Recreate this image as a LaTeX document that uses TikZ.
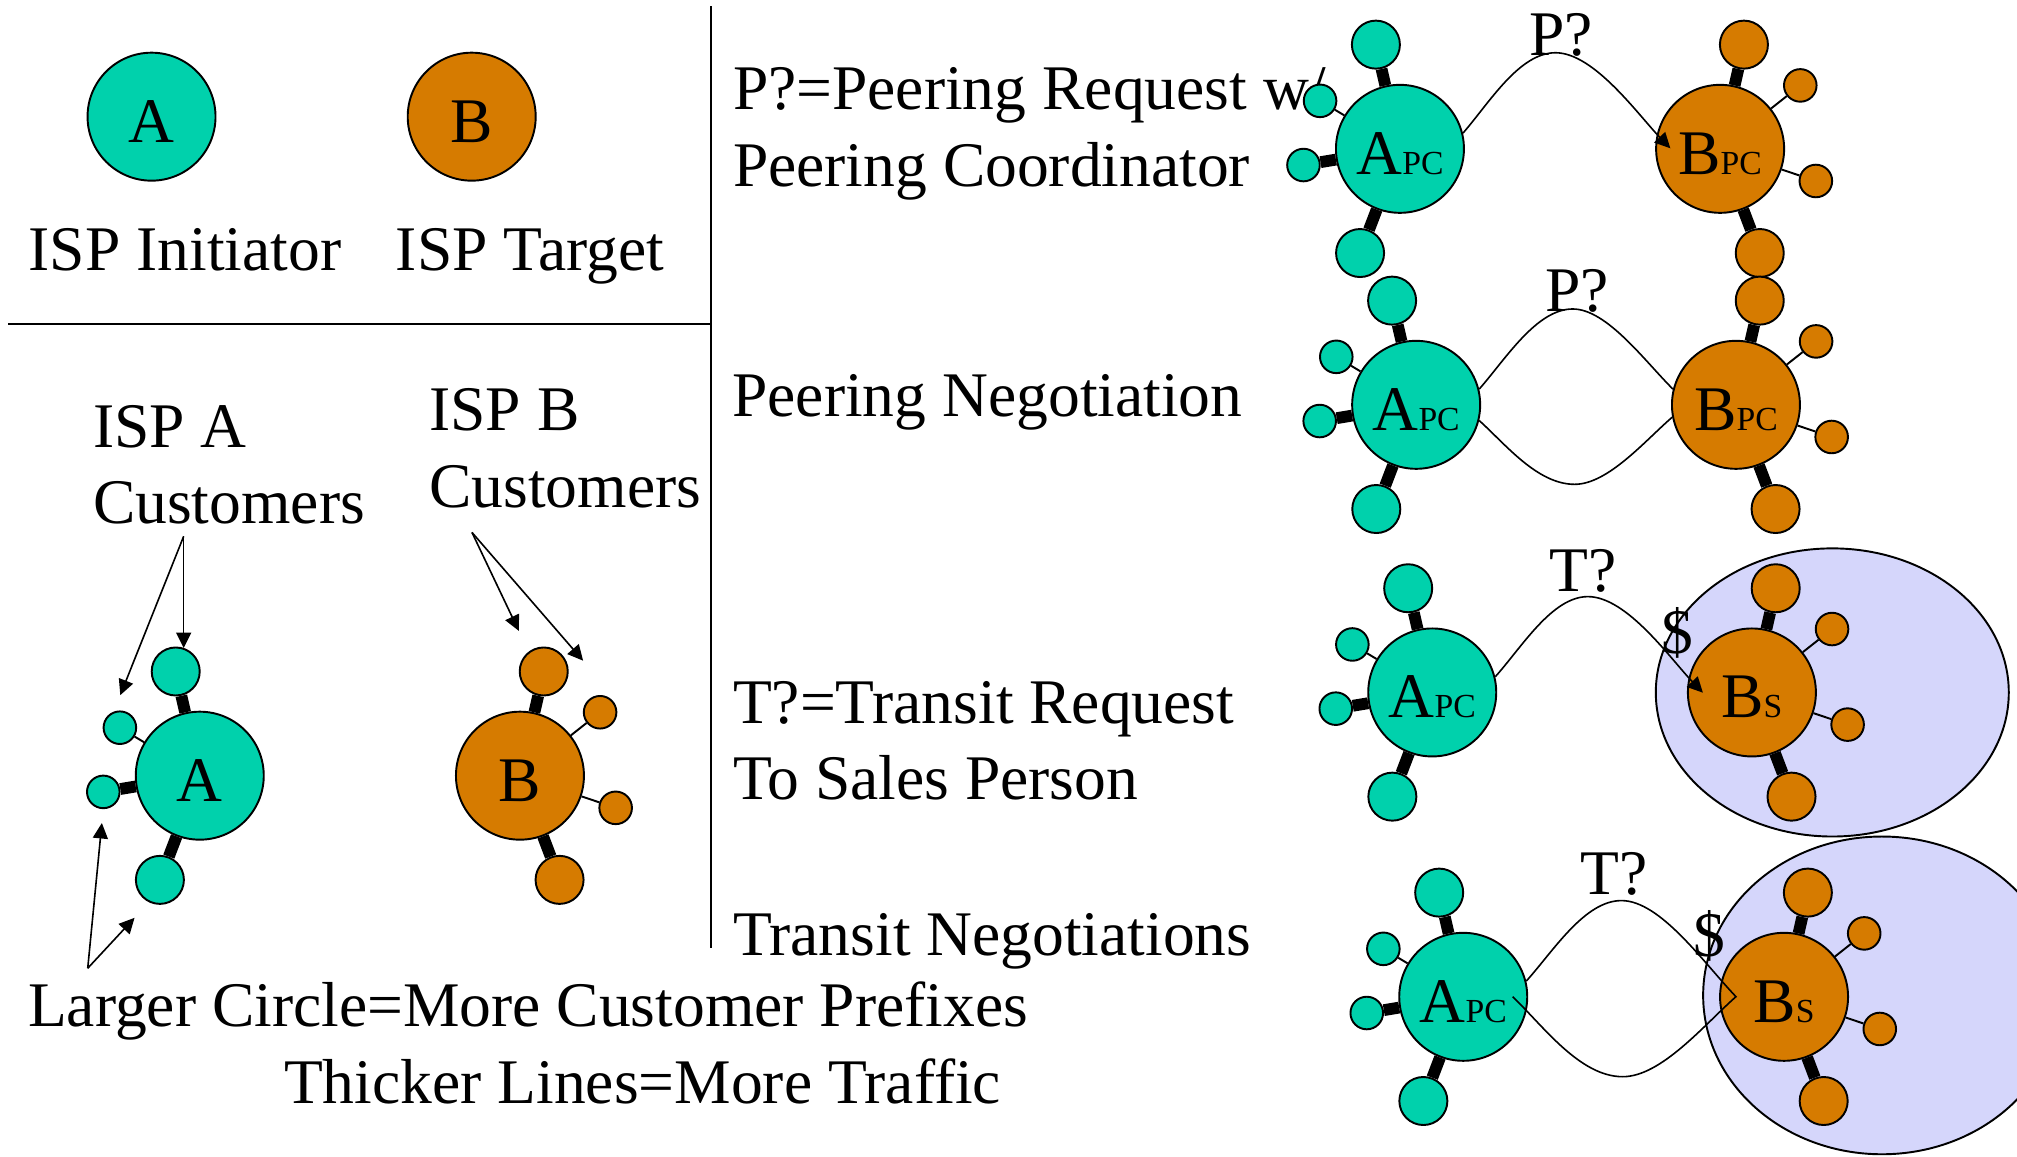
\documentclass[tikz,border=0pt]{standalone}
\usepackage{fontspec}
\setmainfont{Liberation Serif}
\usetikzlibrary{arrows.meta}

\definecolor{ispteal}{RGB}{0,209,172}
\definecolor{isporange}{RGB}{214,123,0}
\definecolor{salesbg}{RGB}{213,214,251}

\newcommand\labelfont{\fontsize{29.64pt}{36pt}\selectfont}
\newcommand\subtag[1]{{\fontsize{15.7pt}{16pt}\selectfont #1}}

\tikzset{
  txt/.style={font=\labelfont, inner sep=0pt, anchor=base west},
  hub/.style={circle, draw, line width=0.9pt, minimum size=59.7pt, inner sep=0pt,
    font=\labelfont, text height=23.8pt, text depth=0pt},
  bigcust/.style={circle, draw, line width=0.9pt, minimum size=22.4pt, inner sep=0pt},
  smallcust/.style={circle, draw, line width=0.9pt, minimum size=15.2pt, inner sep=0pt},
  fatlink/.style={line width=5.5pt},
  slimlink/.style={line width=0.9pt},
  wire/.style={line width=0.75pt},
  tip/.style={-{Triangle[length=7.2pt,width=7pt]}},
  pointer/.style={line width=0.75pt, -{Triangle[length=7.2pt,width=7pt]}},
  % initiating ISP with its customers
  initiator/.pic={
    \node[hub, fill=ispteal] (main) at (0,0) {#1};
    \node[bigcust, fill=ispteal] (up) at (-18.7,-81) {};
    \node[smallcust, fill=ispteal] (ul) at (-62.1,-37.3) {};
    \node[smallcust, fill=ispteal] (side) at (-75,12.6) {};
    \node[bigcust, fill=ispteal] (down) at (-31,81) {};
    \draw[fatlink] (main) -- (up);
    \draw[slimlink] (main) -- (ul);
    \draw[fatlink] (main) -- (side);
    \draw[fatlink] (main) -- (down);
  },
  % target ISP with its customers
  target/.pic={
    \node[hub, fill=isporange] (main) at (0,0) {#1};
    \node[bigcust, fill=isporange] (up) at (18.5,-81) {};
    \node[smallcust, fill=isporange] (ur) at (62.3,-49.3) {};
    \node[smallcust, fill=isporange] (side) at (74.4,25) {};
    \node[bigcust, fill=isporange] (down) at (30.8,81) {};
    \draw[fatlink] (main) -- (up);
    \draw[slimlink] (main) -- (ur);
    \draw[slimlink] (main) -- (side);
    \draw[fatlink] (main) -- (down);
  },
}

\begin{document}
\begin{tikzpicture}[x=0.6pt, y=-0.6pt]
\useasboundingbox (0,0) rectangle (1568,899);
\clip (0,0) rectangle (1568,899);

% dividers
\draw[line width=0.9pt] (552.5,5) -- (552.5,737);
\draw[line width=0.9pt] (6.4,252) -- (552.5,252);

% key
\node[hub, fill=ispteal] (legA) at (117.8,90.7) {A};
\node[hub, fill=isporange] (legB) at (366.7,90.7) {B};
\node[txt] (legAtxt) at (22,209.9) {ISP Initiator};
\node[txt] (legBtxt) at (307.5,210) {ISP Target};

% customer legend
\node[txt] (custA1) at (72,347.6) {ISP A};
\node[txt] (custA2) at (72,407) {Customers};
\node[txt] (custB1) at (333.5,334.8) {ISP B};
\node[txt] (custB2) at (333.5,394.3) {Customers};
\node[txt] (sizeNote) at (21.5,797.6) {Larger Circle=More Customer Prefixes};
\node[txt] (widthNote) at (220.5,857.7) {Thicker Lines=More Traffic};

\pic (la-) at (155.3,603) {initiator=A};
\pic (lb-) at (404.2,603) {target=B};

\coordinate (srcA) at (142.8,416.9);
\coordinate (tipA1) at (142.8,503.7);
\coordinate (tipA2) at (93.5,540.4);
\coordinate (srcB) at (366.9,413.9);
\coordinate (tipB1) at (403.3,490.4);
\coordinate (tipB2) at (453.3,513.6);
\coordinate (srcN) at (68.2,752.7);
\coordinate (tipN1) at (79.2,639.8);
\coordinate (tipN2) at (104.6,713.5);
\draw[pointer] (srcA) -- (tipA1);
\draw[pointer] (srcA) -- (tipA2);
\draw[pointer] (srcB) -- (tipB1);
\draw[pointer] (srcB) -- (tipB2);
\draw[pointer] (srcN) -- (tipN1);
\draw[pointer] (srcN) -- (tipN2);

% scenario captions
\node[txt] (cap1a) at (569.5,85.5) {P?=Peering Request w/};
\node[txt] (cap1b) at (569.5,145.1) {Peering Coordinator};
\node[txt] (cap2) at (569,323.4) {Peering Negotiation};
\node[txt] (cap3a) at (569.5,562.3) {T?=Transit Request};
\node[txt] (cap3b) at (569.5,621.9) {To Sales Person};
\node[txt] (cap4) at (569.5,742.4) {Transit Negotiations};

% sales organisations
\path[draw, fill=salesbg, line width=0.9pt] (1424.4,538.3) ellipse [x radius=137.2, y radius=112];
\path[draw, fill=salesbg, line width=0.9pt] (1463,773.8) ellipse [x radius=139, y radius=123.5];

% scenario 1: peering request
\pic (a1-) at (1088.3,115.7) {initiator={A\subtag{PC}}};
\pic (b1-) at (1337.2,115.7) {target={B\subtag{PC}}};
\node[txt] (q1) at (1188.4,42.8) {P?};
\coordinate (end1) at (1298.5,115.3);
\draw[wire, tip] (a1-main.14.5) .. controls (1157.8,79.9) and (1181,41) .. (1209.2,41)
  .. controls (1239.2,41) and (1273.5,89.3) .. (end1);

% scenario 2: peering negotiation
\pic (a2-) at (1100.9,314.7) {initiator={A\subtag{PC}}};
\pic (b2-) at (1349.5,314.7) {target={B\subtag{PC}}};
\node[txt] (q2) at (1201.2,242.3) {P?};
\draw[wire] (a2-main.14.5) .. controls (1170.5,279.1) and (1194.4,240.2) .. (1222.6,240.2)
  .. controls (1249.1,240.2) and (1278.7,280.8) .. (b2-main.166);
\draw[wire] (a2-main.-14.5) .. controls (1170.5,345.5) and (1195.1,376.5) .. (1224.1,376.5)
  .. controls (1250.1,376.5) and (1279.1,342.3) .. (b2-main.-169);

% scenario 3: transit request
\pic (a3-) at (1113.4,538.3) {initiator={A\subtag{PC}}};
\pic (b3-) at (1361.9,538.3) {target={B\subtag{S}}};
\node[txt] (q3) at (1204,460) {T?};
\node[txt] (fee3) at (1291,507.9) {\$};
\coordinate (end3) at (1323.8,538.5);
\draw[wire, tip] (a3-main.14) .. controls (1183.1,503) and (1206.6,463.8) .. (1234.4,463.8)
  .. controls (1264.8,463.8) and (1298.8,512.4) .. (end3);

% scenario 4: transit negotiation
\pic (a4-) at (1137.5,774.9) {initiator={A\subtag{PC}}};
\pic (b4-) at (1386.9,774.9) {target={B\subtag{S}}};
\node[txt] (q4) at (1228.6,695) {T?};
\node[txt] (fee4) at (1316.5,743.7) {\$};
\coordinate (turn4) at (1349.5,774.8);
\coordinate (end4) at (1175.9,774.8);
\draw[wire] (a4-main.14.3) .. controls (1207.6,739.3) and (1231.8,700.1) .. (1260.5,700.1)
  .. controls (1290.8,700.1) and (1324.6,748.7) .. (turn4)
  .. controls (1324.9,796.6) and (1291.4,837) .. (1261.5,837)
  .. controls (1228.1,837) and (1199.9,797.8) .. (end4);
\end{tikzpicture}
\end{document}
